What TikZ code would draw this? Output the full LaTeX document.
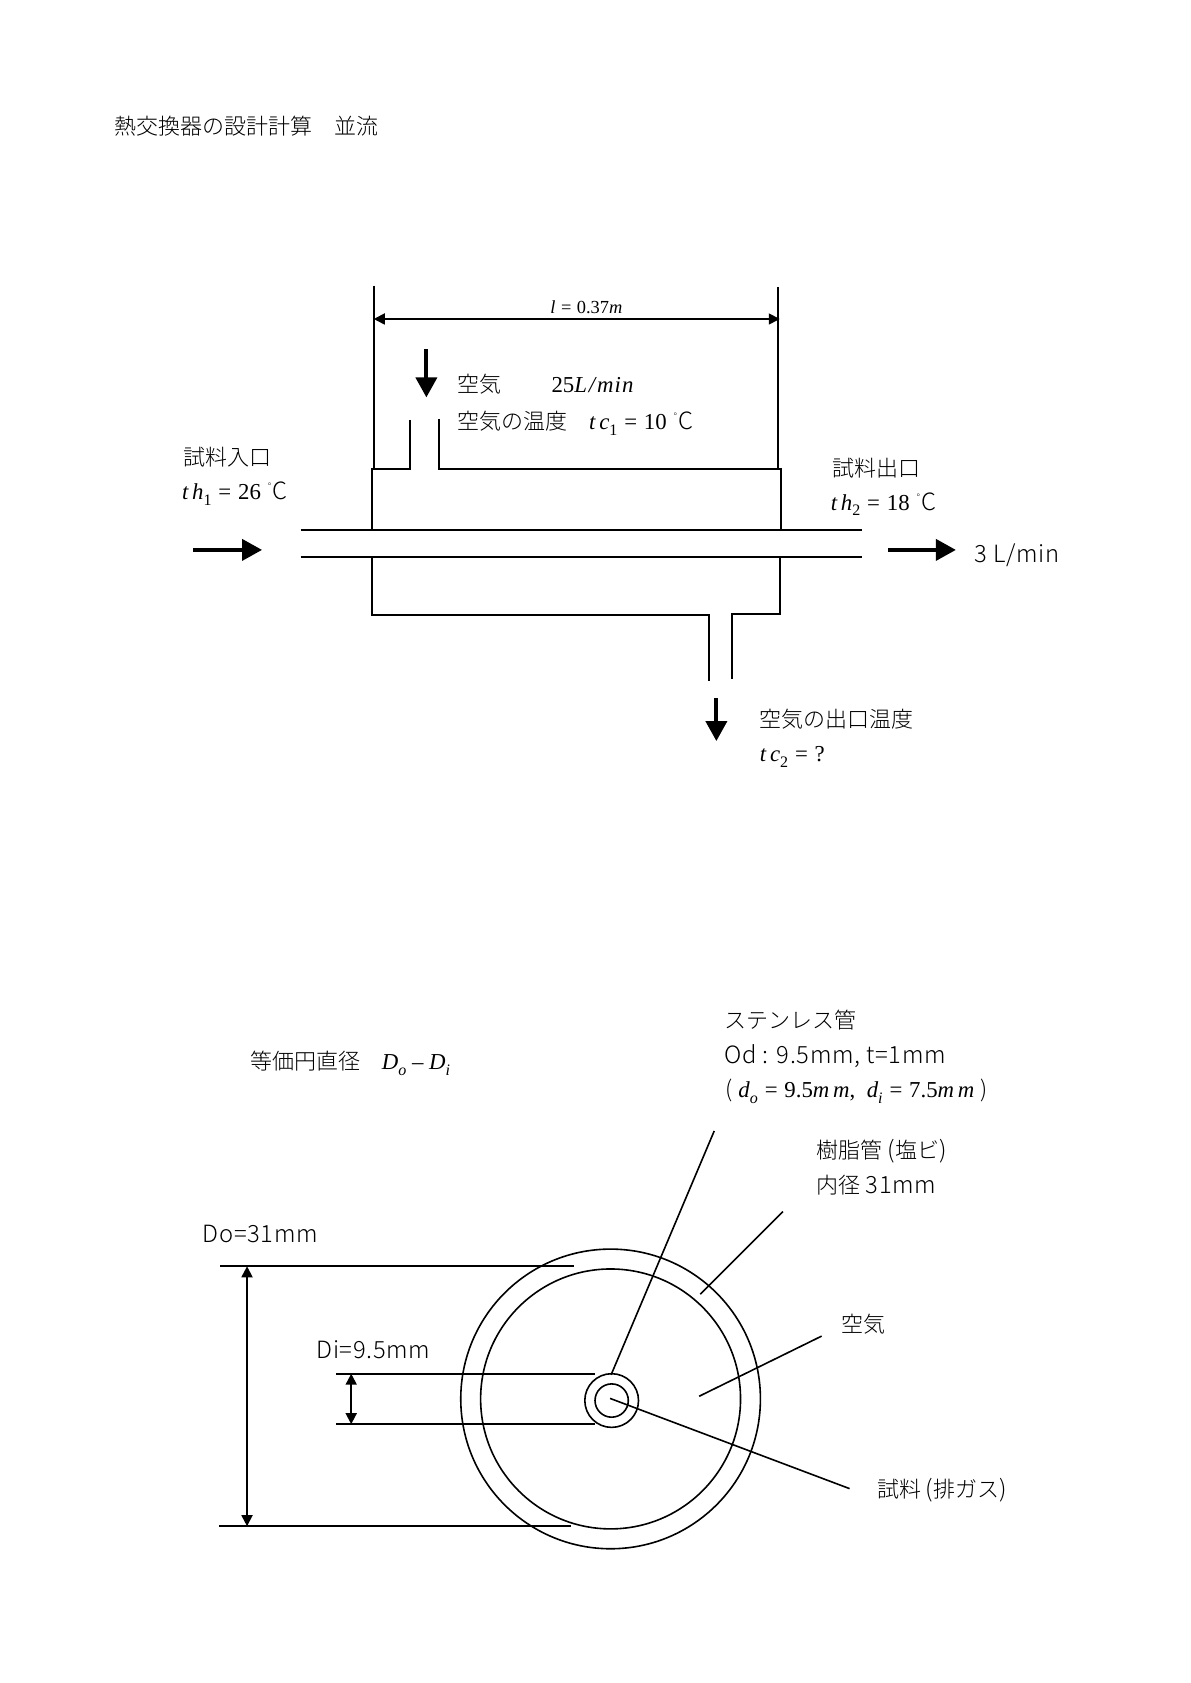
\documentclass[tikz,border=0pt]{standalone}
\usepackage{fontspec}
\setmainfont{Liberation Serif}
\newfontfamily\jpfont{Noto Sans CJK JP Light}
\newfontfamily\latfont[Scale=1.08,LetterSpace=3]{Noto Sans CJK JP Light}
\usetikzlibrary{arrows.meta}
\newcommand{\lowtxt}[1]{\raisebox{-0.55ex}{\footnotesize #1}}
\newcommand{\eqsign}{\hspace{0.3em}=\hspace{0.3em}}
\newcommand{\degC}{\hspace{0.3em}{\jpfont\fontsize{11pt}{13pt}\selectfont\raisebox{0.75ex}{\tiny °}\hspace{0.05em}{\latfont C}}}

\begin{document}
\begin{tikzpicture}
[x=0.537pt, y=-0.537pt, font=\fontsize{11.4pt}{13pt}\selectfont, semithick,
wall/.style={line width=1pt},
thin wall/.style={line width=0.8pt},
big arrow/.style={line width=1.9pt, -{Triangle[length=10pt,width=10.5pt]}},
dim arrow/.style={line width=0.9pt, {Triangle[length=5.5pt,width=5.5pt]}-{Triangle[length=5.5pt,width=5.5pt]}},
jp/.style={anchor=base west, inner sep=0pt, font=\jpfont\fontsize{11pt}{13pt}\selectfont},
eq/.style={anchor=base west, inner sep=0pt}
]
  \useasboundingbox (0,0) rectangle (1108,1567);

  % title
  \node[jp] (title) at (106,125) {熱交換器の設計計算　並流};

  % length dimension
  \coordinate (lenA) at (348,266);
  \coordinate (lenB) at (348,437);
  \coordinate (lenC) at (724,267);
  \coordinate (lenD) at (724,437);
  \coordinate (lenL) at (348,297);
  \coordinate (lenR) at (726,297);
  \path (lenA) edge [wall] (lenB)
        (lenC) edge [wall] (lenD)
        (lenL) edge [dim arrow] (lenR);
  \node[eq, anchor=base, font=\fontsize{9.2pt}{10pt}\selectfont] (len) at (546,292) {\textit{l}\eqsign 0.37\textit{m}};

  % shell
  \draw[wall] (382,391) -- (382,437) -- (346,437) -- (346,493);
  \draw[wall] (409,390) -- (409,437) -- (727,437) -- (727,493);
  \draw[wall] (346,519) -- (346,573) -- (660,573) -- (660,634);
  \draw[wall] (682,632) -- (682,572) -- (726,572) -- (726,519);

  % inner tube
  \coordinate (tubeA) at (280,493);
  \coordinate (tubeB) at (803,493);
  \coordinate (tubeC) at (280,519);
  \coordinate (tubeD) at (803,519);
  \path (tubeA) edge [wall] (tubeB)
        (tubeC) edge [wall] (tubeD);

  % flow arrows
  \coordinate (airA) at (397,325);
  \coordinate (airB) at (397,370);
  \coordinate (inA) at (180,512);
  \coordinate (inB) at (244,512);
  \coordinate (outA) at (827,512);
  \coordinate (outB) at (890,512);
  \coordinate (exA) at (667,650);
  \coordinate (exB) at (667,690);
  \path (airA) edge [big arrow] (airB)
        (inA) edge [big arrow] (inB)
        (outA) edge [big arrow] (outB)
        (exA) edge [big arrow] (exB);

  \node[jp] (air) at (425,365) {空気};
  \node[eq] (airflow) at (513,365) {25\textit{L\kern0.08em/\kern0.08em m\kern0.05em i\kern0.05em n}};
  \node[jp] (airtemp) at (425,400) {空気の温度};
  \node[eq] (tc1) at (548,400) {\textit{t\,c}\lowtxt{1}\eqsign 10\degC};
  \node[jp] (inlet) at (170,433) {試料入口};
  \node[eq] (th1) at (169,465) {\textit{t\,h}\lowtxt{1}\eqsign 26\degC};
  \node[jp] (outlet) at (775,444) {試料出口};
  \node[eq] (th2) at (773,475) {\textit{t\,h}\lowtxt{2}\eqsign 18\degC};
  \node[jp] (rate) at (907,524) {\latfont 3 L/min};
  \node[jp] (exit) at (707,677) {空気の出口温度};
  \node[eq] (tc2) at (707,709) {\textit{t\,c}\lowtxt{2}\eqsign ?};

  % cross section
  \node[jp] (eqd) at (233,996) {等価円直径};
  \node[eq] (eqdf) at (355,996) {\textit{D}\lowtxt{\textit{o}} -- \textit{D}\lowtxt{\textit{i}}};

  \draw[thin wall] (568.5,1302.5) circle (139.5);
  \draw[thin wall] (568.5,1302.5) circle (121);
  \draw[thin wall] (569.5,1304) circle (25);
  \draw[thin wall] (569.5,1304) circle (15.5);

  \coordinate (doA) at (205,1179);
  \coordinate (doB) at (534,1179);
  \coordinate (doC) at (204,1421);
  \coordinate (doD) at (532,1421);
  \coordinate (doT) at (230,1179);
  \coordinate (doU) at (230,1421);
  \coordinate (diA) at (313,1279);
  \coordinate (diB) at (554,1279);
  \coordinate (diC) at (313,1326);
  \coordinate (diD) at (554,1326);
  \coordinate (diT) at (327,1279);
  \coordinate (diU) at (327,1326);
  \path (doA) edge [wall] (doB)
        (doC) edge [wall] (doD)
        (doT) edge [dim arrow] (doU)
        (diA) edge [wall] (diB)
        (diC) edge [wall] (diD)
        (diT) edge [dim arrow] (diU);

  \coordinate (ssA) at (665,1053);
  \coordinate (ssB) at (569,1280);
  \coordinate (pvcA) at (729,1128);
  \coordinate (pvcB) at (652,1205);
  \coordinate (gapA) at (765,1244);
  \coordinate (gapB) at (651,1300);
  \coordinate (gasA) at (568,1302);
  \coordinate (gasB) at (791,1386);
  \path (ssA) edge [thin wall] (ssB)
        (pvcA) edge [thin wall] (pvcB)
        (gapA) edge [thin wall] (gapB)
        (gasA) edge [thin wall] (gasB);

  \node[jp] (sstube) at (674,958) {ステンレス管};
  \node[jp] (ssod) at (674,990) {\latfont Od : 9.5mm, t=1mm};
  \node[eq] (ssd) at (675,1022) {{\jpfont(} \textit{d}\lowtxt{\textit{o}}\eqsign 9.5\textit{m\,m},\enspace\textit{d}\lowtxt{\textit{i}}\eqsign 7.5\textit{m\,m} {\jpfont)}};
  \node[jp] (pvc) at (760,1079) {樹脂管 {\latfont (}塩ビ{\latfont )}};
  \node[jp] (pvcd) at (760,1111) {内径 {\latfont 31mm}};
  \node[jp] (gap) at (783,1241) {空気};
  \node[jp] (gas) at (816,1394) {試料 {\latfont (}排ガス{\latfont )}};
  \node[jp] (do) at (188,1157) {\latfont Do=31mm};
  \node[jp] (di) at (294,1265) {\latfont Di=9.5mm};
\end{tikzpicture}
\end{document}
